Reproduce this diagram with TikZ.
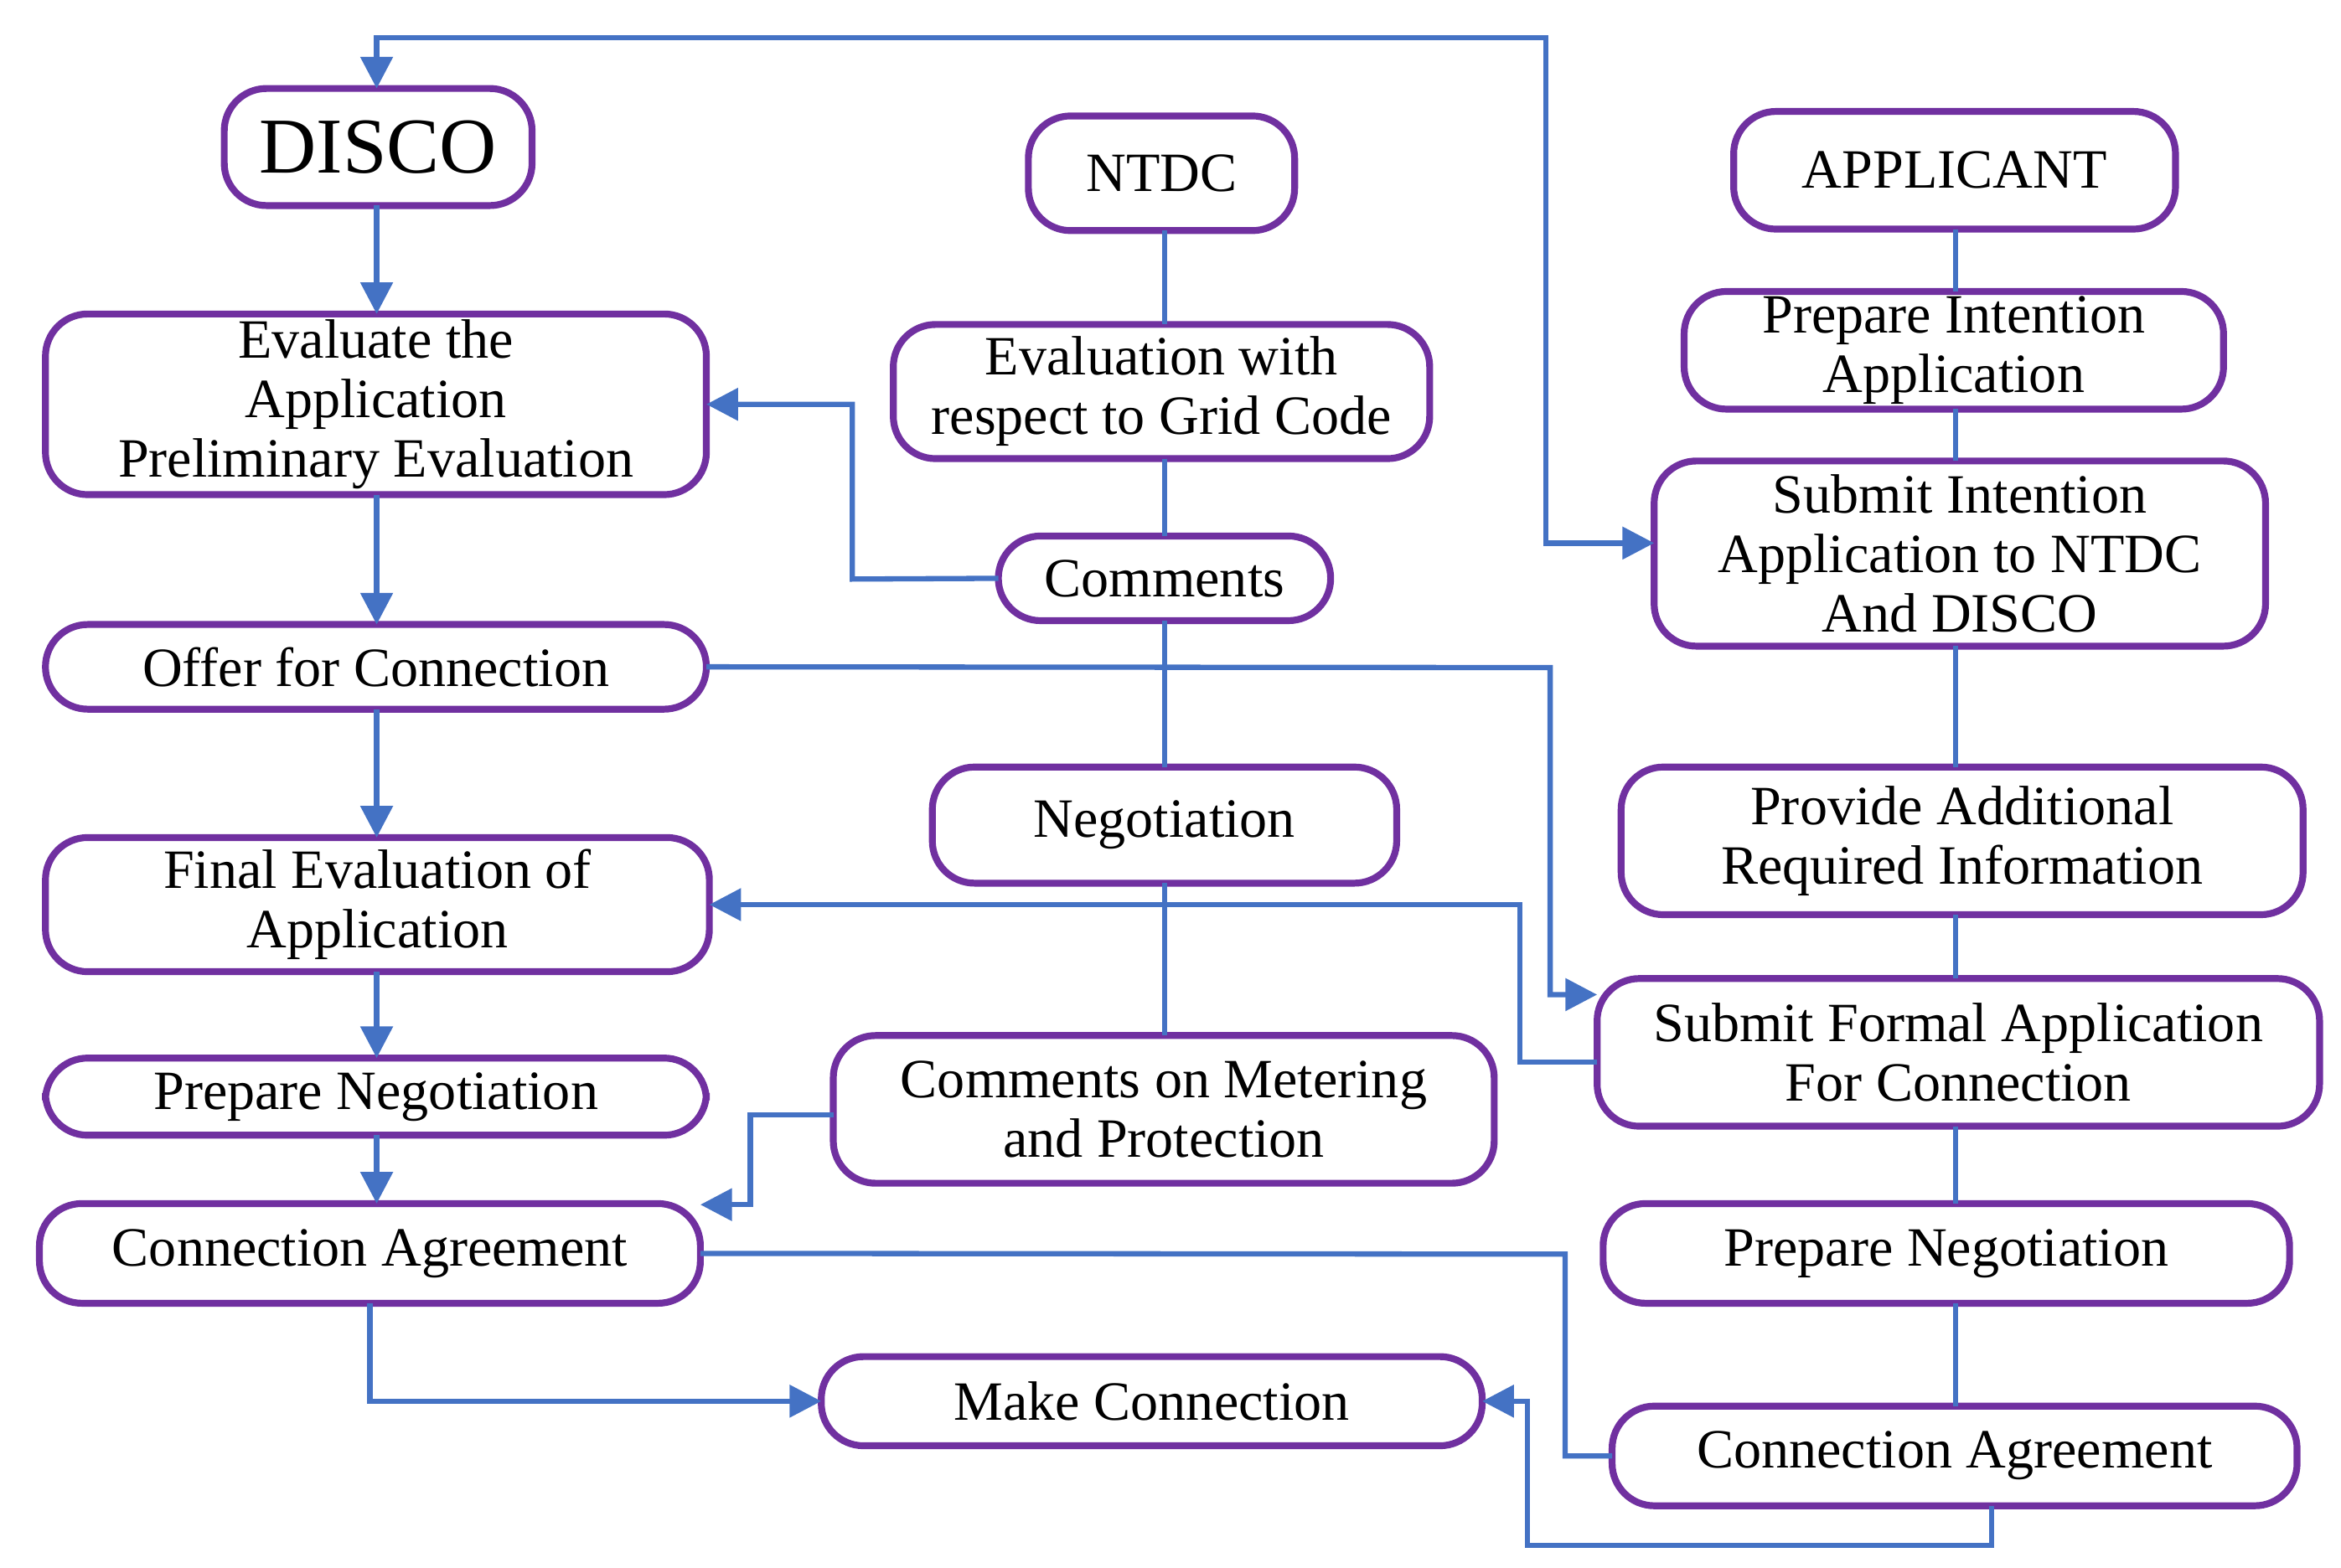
\documentclass[tikz,border=0pt]{standalone}
\usepackage{fontspec}
\setmainfont{Liberation Serif}
\usetikzlibrary{arrows.meta,positioning}
\definecolor{boxpurple}{RGB}{112,48,160}
\definecolor{lineblue}{RGB}{68,114,196}
\tikzset{
  box/.style={draw=boxpurple, line width=1.3pt, rounded corners=8pt, align=center,
    inner sep=0pt, outer sep=0pt, font=\fontsize{10.5}{11.3}\selectfont},
  link/.style={draw=lineblue, line width=1pt},
  flow/.style={link, -{Triangle[length=6pt,width=6pt]}},
}
\newcommand{\bx}[6]{% name, x1, y1, x2, y2, text
  \node[box, minimum width={(#4-#2)*0.01cm-1.3pt}, minimum height={(#5-#3)*0.01cm-1.3pt}]
    (#1) at ({(#2+#4)/2}, {(#3+#5)/2}) {#6};}
\begin{document}
\begin{tikzpicture}[x=0.01cm, y=-0.01cm]
        \useasboundingbox (0,0) rectangle (1560,1045);
        \coordinate (leftx) at (251,0);
        \coordinate (midx) at (776,0);
        \coordinate (rightx) at (1303,0);

        % left column (DISCO)
        \node[box, font=\fontsize{15}{16}\selectfont, minimum width=2.05cm, minimum height=0.78cm] (disco) at (252,98) {DISCO};
        \bx{evalapp}{28}{207}{473}{332}{Evaluate the\\Application\\Preliminary Evaluation}
        \bx{offer}{28}{414}{473}{475}{Offer for Connection}
        \bx{final}{28}{556}{475}{650}{Final Evaluation of\\Application}
        \bx{negleft}{28}{703}{473}{759}{Prepare Negotiation}
        \bx{agrleft}{24}{800}{469}{871}{Connection Agreement}

        % middle column (NTDC)
        \bx{ntdc}{683}{75}{865}{156}{NTDC}
        \bx{gridcode}{593}{214}{955}{308}{Evaluation with\\respect to Grid Code}
        \bx{comments}{663}{355}{889}{416}{Comments}
        \bx{negotiation}{619}{509}{933}{591}{Negotiation}
        \bx{metering}{553}{688}{998}{791}{Comments on Metering\\and Protection}
        \bx{makeconn}{545}{902}{990}{966}{Make Connection}

        % right column (applicant)
        \bx{applicant}{1153}{72}{1452}{155}{APPLICANT}
        \bx{intention}{1120}{192}{1484}{275}{Prepare Intention\\Application}
        \bx{submitint}{1100}{305}{1512}{433}{Submit Intention\\Application to NTDC\\And DISCO}
        \bx{provide}{1078}{509}{1537}{612}{Provide Additional\\Required Information}
        \bx{formal}{1062}{650}{1548}{753}{Submit Formal Application\\For Connection}
        \bx{negright}{1066}{800}{1528}{871}{Prepare Negotiation}
        \bx{agrright}{1072}{935}{1533}{1006}{Connection Agreement}

        % chains
        \foreach \a/\b in {disco/evalapp, evalapp/offer, offer/final, final/negleft, negleft/agrleft}
          \draw[flow] (\a.south -| leftx) -- (\b.north -| leftx);
        \foreach \a/\b in {ntdc/gridcode, gridcode/comments, comments/negotiation, negotiation/metering}
          \draw[link] (\a.south -| midx) -- (\b.north -| midx);
        \foreach \a/\b in {applicant/intention, intention/submitint, submitint/provide, provide/formal, formal/negright, negright/agrright}
          \draw[link] (\a.south -| rightx) -- (\b.north -| rightx);

        % cross links
        \draw[flow, {Triangle[length=6pt,width=6pt]}-{Triangle[length=6pt,width=6pt]}]
            (submitint.west |- 0,362) -- (1030,362) -- (1030,25) -| (disco.north -| leftx);
        \draw[flow] (comments.west) -- (568,386) |- (evalapp.east);
        \draw[flow] (offer.east) -- (1033,445) |- (formal.west |- 0,663);
        \draw[flow] (formal.west |- 0,708) -- (1013,708) |- (final.east);
        \draw[flow] (metering.west |- 0,743) -- (500,743) |- (agrleft.east |- 0,803);
        \draw[link] (agrleft.east) -- (1043,836) |- (agrright.west);
        \draw[flow] (agrleft.south) |- (makeconn.west);
        \draw[flow] (agrright.south -| 1327,0) -- (1327,1030) -| (1018,934) -- (makeconn.east);
\end{tikzpicture}
\end{document}
